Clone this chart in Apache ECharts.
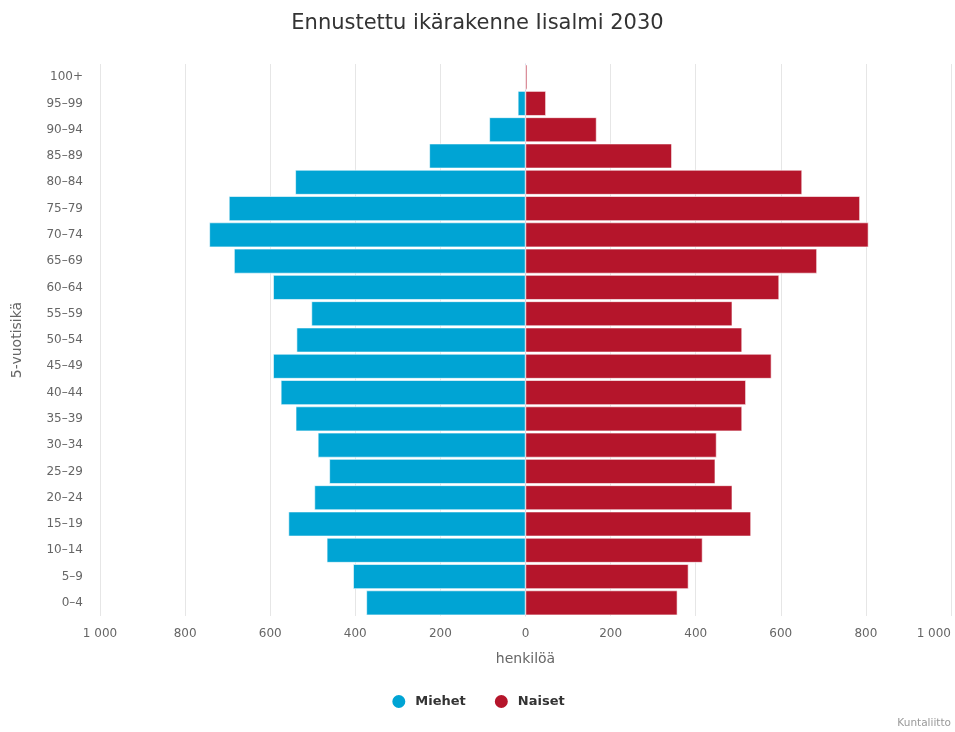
<!DOCTYPE html>
<html>
<head>
<meta charset="utf-8">
<script src="https://cdn.jsdelivr.net/npm/echarts@6/dist/echarts.min.js"></script>
<style>
html,body{margin:0;padding:0;background:#fff;}
#chart{width:955px;height:732px;}
</style>
</head>
<body>
<div id="chart"></div>
<script>
var ageGroups = ["0–4","5–9","10–14","15–19","20–24","25–29","30–34","35–39","40–44","45–49","50–54","55–59","60–64","65–69","70–74","75–79","80–84","85–89","90–94","95–99","100+"];
var men =   [374, 405, 467, 557, 496, 461, 488, 540, 575, 593, 538, 503, 593, 685, 743, 697, 541, 226, 85, 18, 0];
var women = [357, 383, 416, 530, 486, 446, 449, 509, 518, 578, 509, 486, 596, 685, 806, 786, 650, 344, 167, 48, 4];
var seriesNames = ["Miehet", "Naiset"];
var xTicks = {min: -1000, max: 1000, step: 200};

var font = '"DejaVu Sans", "Open Sans", sans-serif';
function fmt(v){
  var a = Math.abs(v);
  var s = String(a);
  if (a >= 1000) s = s.slice(0, s.length-3) + ' ' + s.slice(s.length-3);
  return s;
}
var chart = echarts.init(document.getElementById('chart'), null, {renderer:'canvas'});
chart.setOption({
  animation: false,
  backgroundColor: '#fff',
  title: {
    text: 'Ennustettu ikärakenne Iisalmi 2030',
    left: 'center', top: 8,
    textStyle: {fontFamily: font, fontSize: 21, fontWeight: 'normal', color: '#333'}
  },
  graphic: [{
    type: 'text', right: 4, bottom: 3,
    style: {text: 'Kuntaliitto', fontFamily: font, fontSize: 10.5, fill: '#999'}
  }],
  legend: {
    data: seriesNames,
    bottom: 17, left: 'center',
    icon: 'circle', itemWidth: 15, itemHeight: 15, itemGap: 27,
    textStyle: {fontFamily: font, fontSize: 13, fontWeight: 'bold', color: '#333', padding: [0, 0, 0, 4]}
  },
  grid: {left: 100, right: 4, top: 64, bottom: 116, containLabel: false, outerBoundsMode: 'none'},
  xAxis: {
    type: 'value', min: xTicks.min, max: xTicks.max, interval: xTicks.step,
    name: 'henkilöä', nameLocation: 'middle', nameGap: 36,
    nameTextStyle: {fontFamily: font, fontSize: 14, color: '#666'},
    axisLabel: {formatter: fmt, fontFamily: font, fontSize: 12, color: '#666', margin: 12, alignMaxLabel: 'right'},
    axisLine: {show: false}, axisTick: {show: false},
    splitLine: {show: true, lineStyle: {color: '#e6e6e6', width: 1}}
  },
  yAxis: {
    type: 'category', data: ageGroups,
    name: '5-vuotisikä', nameLocation: 'middle', nameGap: 76, nameRotate: 90,
    nameTextStyle: {fontFamily: font, fontSize: 14, color: '#666'},
    axisLabel: {fontFamily: font, fontSize: 12, color: '#666', margin: 17},
    axisLine: {show: true, lineStyle: {color: '#ccd6eb', width: 1}},
    axisTick: {show: false},
    splitLine: {show: false}
  },
  series: [
    {
      name: seriesNames[0], type: 'bar', stack: 'pop',
      data: men.map(function(v){ return -v; }),
      itemStyle: {color: '#00a4d4', borderColor: '#fff', borderWidth: 0.6},
      barCategoryGap: '6%'
    },
    {
      name: seriesNames[1], type: 'bar', stack: 'pop',
      data: women,
      itemStyle: {color: '#b5152b', borderColor: '#fff', borderWidth: 0.6},
      barCategoryGap: '6%'
    }
  ]
});
</script>
</body>
</html>
